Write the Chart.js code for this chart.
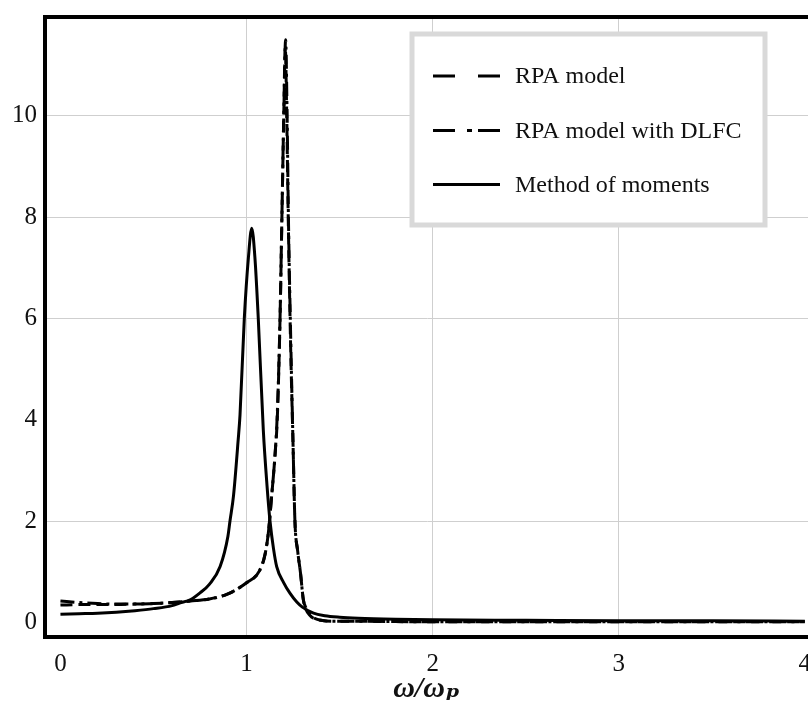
<!DOCTYPE html>
<html>
<head>
<meta charset="utf-8">
<script src="https://cdn.jsdelivr.net/npm/chart.js@4.4.1/dist/chart.umd.min.js"></script>
<style>
html,body{margin:0;padding:0;background:#fff;}
#wrap{width:808px;height:720px;position:relative;}
</style>
</head>
<body>
<div id="wrap"><canvas id="c" width="808" height="720"></canvas></div>
<script>
// ---- data ----
const seriesLabels = ['RPA model', 'RPA model with DLFC', 'Method of moments'];

const rpaX = [0, 0.1, 0.2, 0.3, 0.4, 0.5, 0.6, 0.7, 0.8, 0.9, 1.0, 1.07, 1.1, 1.117, 1.135, 1.153, 1.166, 1.18, 1.19, 1.2, 1.208, 1.216, 1.224, 1.236, 1.25, 1.26, 1.275, 1.29, 1.305, 1.32, 1.34, 1.36, 1.4, 1.47, 1.6, 2.0, 2.5, 3.0, 3.5, 4.0];
const rpaY = [0.34, 0.35, 0.35, 0.35, 0.36, 0.37, 0.39, 0.42, 0.46, 0.56, 0.78, 1.02, 1.35, 1.76, 2.5, 3.3, 4.1, 6.0, 8.0, 10.0, 11.35, 10.0, 8.0, 5.6, 3.5, 2.0, 1.4, 0.97, 0.45, 0.25, 0.14, 0.08, 0.04, 0.02, 0.02, 0.01, 0.01, 0.01, 0.01, 0.01];

const dlfcX = [0, 0.1, 0.2, 0.3, 0.4, 0.5, 0.6, 0.7, 0.8, 0.9, 1.0, 1.07, 1.1, 1.117, 1.135, 1.153, 1.165, 1.18, 1.19, 1.2, 1.21, 1.218, 1.225, 1.238, 1.25, 1.26, 1.275, 1.29, 1.305, 1.32, 1.34, 1.36, 1.4, 1.47, 1.6, 2.0, 2.5, 3.0, 3.5, 4.0];
const dlfcY = [0.42, 0.39, 0.37, 0.36, 0.36, 0.37, 0.39, 0.42, 0.46, 0.56, 0.78, 1.02, 1.35, 1.76, 2.5, 3.3, 4.1, 6.0, 8.0, 10.0, 11.5, 10.0, 8.0, 5.5, 3.5, 2.0, 1.4, 0.97, 0.45, 0.28, 0.16, 0.09, 0.04, 0.02, 0.02, 0.01, 0.01, 0.01, 0.01, 0.01];

const momX = [0, 0.1, 0.2, 0.3, 0.4, 0.5, 0.6, 0.64, 0.7, 0.75, 0.8, 0.858, 0.9, 0.911, 0.93, 0.955, 0.965, 0.988, 1.01, 1.028, 1.045, 1.063, 1.09, 1.11, 1.126, 1.145, 1.162, 1.2, 1.234, 1.27, 1.3, 1.36, 1.42, 1.5, 1.6, 1.8, 2.0, 2.5, 3.0, 3.5, 4.0];
const momY = [0.16, 0.17, 0.18, 0.2, 0.23, 0.27, 0.33, 0.38, 0.45, 0.58, 0.75, 1.1, 1.7, 2.0, 2.5, 3.6, 4.1, 6.0, 7.2, 7.78, 7.2, 6.0, 3.8, 2.7, 2.0, 1.45, 1.1, 0.78, 0.57, 0.4, 0.3, 0.18, 0.13, 0.1, 0.08, 0.06, 0.05, 0.04, 0.03, 0.03, 0.02];

const xTickValues = [0, 1, 2, 3, 4];
const yTickValues = [0, 2, 4, 6, 8, 10];
const xAxisTitle = 'ω/ωₚ';

// ---- chart ----
const toPoints = (xs, ys) => xs.map((x, i) => ({x: x, y: ys[i]}));
const serif = "'Liberation Serif', 'DejaVu Serif', 'Times New Roman', serif";

const framePlugin = {
  id: 'topFrame',
  afterDraw(chart) {
    const {ctx, chartArea: a} = chart;
    ctx.save();
    ctx.strokeStyle = '#000';
    ctx.lineWidth = 4;
    ctx.beginPath();
    ctx.moveTo(a.left - 2, a.top);
    ctx.lineTo(a.right, a.top);
    ctx.stroke();
    ctx.restore();
  }
};

const boxLegend = {
  id: 'boxLegend',
  afterDraw(chart, args, o) {
    const ctx = chart.ctx;
    ctx.save();
    ctx.fillStyle = '#fff';
    ctx.fillRect(o.x, o.y, o.w, o.h);
    ctx.strokeStyle = '#d9d9d9';
    ctx.lineWidth = 5;
    ctx.strokeRect(o.x, o.y, o.w, o.h);
    chart.data.datasets.forEach((ds, i) => {
      const y = o.rows[i];
      ctx.strokeStyle = ds.borderColor;
      ctx.lineWidth = 3;
      ctx.setLineDash(o.dashes[i]);
      ctx.beginPath();
      ctx.moveTo(o.sx, y);
      ctx.lineTo(o.sx + o.sw, y);
      ctx.stroke();
      ctx.setLineDash([]);
      ctx.fillStyle = '#111';
      ctx.font = '24px ' + serif;
      ctx.textBaseline = 'middle';
      ctx.textAlign = 'left';
      ctx.fillText(ds.label, o.tx, y + 1);
    });
    ctx.restore();
  }
};

const gridColor = (c) => (c.tick && (c.tick.value === 0 || c.tick.value === 4)) ? 'rgba(0,0,0,0)' : '#cfcfcf';

new Chart(document.getElementById('c'), {
  type: 'line',
  data: {
    datasets: [
      {label: seriesLabels[0], data: toPoints(rpaX, rpaY), borderColor: '#000', borderWidth: 3, borderDash: [12, 6], pointRadius: 0, fill: false, cubicInterpolationMode: 'monotone'},
      {label: seriesLabels[1], data: toPoints(dlfcX, dlfcY), borderColor: '#000', borderWidth: 3, borderDash: [14, 5, 3, 5], pointRadius: 0, fill: false, cubicInterpolationMode: 'monotone'},
      {label: seriesLabels[2], data: toPoints(momX, momY), borderColor: '#000', borderWidth: 3, pointRadius: 0, fill: false, cubicInterpolationMode: 'monotone'}
    ]
  },
  options: {
    responsive: false,
    devicePixelRatio: 1,
    animation: false,
    layout: {padding: {top: 17, left: 0, right: 0, bottom: 0}},
    plugins: {
      legend: {display: false},
      tooltip: {enabled: false},
      boxLegend: {
        x: 412, y: 34, w: 353, h: 191,
        rows: [76, 130.5, 184.5],
        sx: 433, sw: 67, tx: 515,
        dashes: [[22, 23], [22, 12, 5, 6], []]
      }
    },
    scales: {
      x: {
        type: 'linear',
        min: -0.083,
        max: 4.017,
        afterBuildTicks: (s) => { s.ticks = xTickValues.map(v => ({value: v})); },
        afterFit: (s) => { s.height = 83; s.paddingLeft = 0; s.paddingRight = 0; },
        grid: {color: gridColor, lineWidth: 1, drawTicks: false},
        border: {display: true, color: '#000', width: 4},
        ticks: {
          color: '#111', padding: 12, maxRotation: 0, autoSkip: false,
          font: {family: serif, size: 25},
          callback: (v) => String(v)
        },
        title: {
          display: true, text: xAxisTitle, color: '#111',
          font: {family: serif, size: 30, style: 'italic', weight: 'bold'},
          padding: {top: 0, bottom: 13}
        }
      },
      y: {
        type: 'linear',
        min: -0.29,
        max: 11.95,
        afterBuildTicks: (s) => { s.ticks = yTickValues.map(v => ({value: v})); },
        afterFit: (s) => { s.width = 45; s.paddingTop = 0; s.paddingBottom = 0; },
        grid: {color: gridColor, lineWidth: 1, drawTicks: false},
        border: {display: true, color: '#000', width: 4},
        ticks: {
          color: '#111', padding: 8, autoSkip: false,
          font: {family: serif, size: 25},
          callback: (v) => String(v)
        }
      }
    }
  },
  plugins: [framePlugin, boxLegend]
});
</script>
</body>
</html>
